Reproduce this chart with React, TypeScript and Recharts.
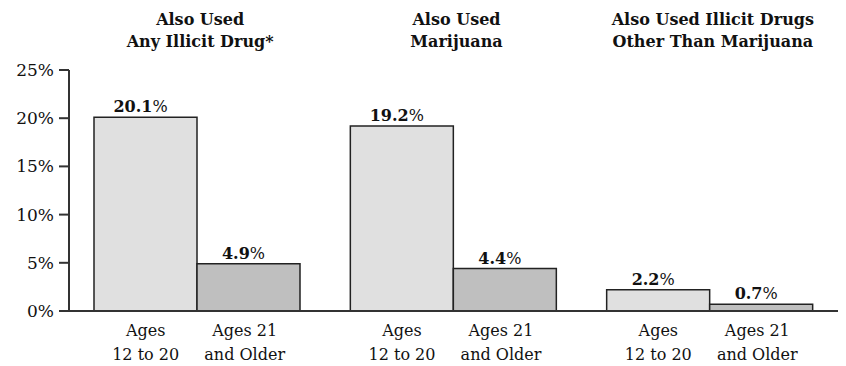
import React from 'react';
import { BarChart, Bar, XAxis, YAxis, LabelList } from 'recharts';

const groups = ['Any Illicit Drug', 'Marijuana', 'Other Than Marijuana'];
const titleLine1 = ['Also Used', 'Also Used', 'Also Used Illicit Drugs'];
const titleLine2 = ['Any Illicit Drug*', 'Marijuana', 'Other Than Marijuana'];
const ages12to20 = [20.1, 19.2, 2.2];
const ages21older = [4.9, 4.4, 0.7];
const yTicks = [0, 5, 10, 15, 20, 25];
const barLabels = [
  ['Ages', '12 to 20'],
  ['Ages 21', 'and Older'],
];

const data = groups.map((g, i) => ({
  group: g,
  young: ages12to20[i],
  older: ages21older[i],
}));

const FONT = '"DejaVu Serif", serif';
const BAR_W = 103;

const TitleTick = (props: any) => {
  const { x, payload } = props;
  const i = payload.index;
  return (
    <g>
      <text x={x + 3} y={25} textAnchor="middle" fontFamily={FONT} fontWeight="bold" fontSize={16} fill="#111">
        {titleLine1[i]}
      </text>
      <text x={x + 3} y={47} textAnchor="middle" fontFamily={FONT} fontWeight="bold" fontSize={16} fill="#111">
        {titleLine2[i]}
      </text>
    </g>
  );
};

const AgeTick = (props: any) => {
  const { x, y } = props;
  return (
    <g>
      {barLabels.map((lines, j) => {
        const cx = x + (j === 0 ? -BAR_W / 2 : BAR_W / 2 - 4);
        return (
          <g key={j}>
            <text x={cx} y={y + 17} textAnchor="middle" fontFamily={FONT} fontSize={16} fill="#111">
              {lines[0]}
            </text>
            <text x={cx} y={y + 41} textAnchor="middle" fontFamily={FONT} fontSize={16} fill="#111">
              {lines[1]}
            </text>
          </g>
        );
      })}
    </g>
  );
};

const ValueLabel = (props: any) => {
  const { x, y, width, value } = props;
  return (
    <text x={x + width / 2 - 5} y={y - 5} textAnchor="middle" fontFamily={FONT} fontSize={16} fill="#111">
      <tspan fontWeight="bold">{value.toFixed(1)}</tspan>
      <tspan>%</tspan>
    </text>
  );
};

export default function App() {
  return (
    <div style={{ position: 'absolute', left: 0, top: 0, background: '#fff' }}>
      <BarChart
        width={846}
        height={366}
        data={data}
        margin={{ top: 0, right: 8, bottom: 0, left: 0 }}
        barCategoryGap={25}
        barGap={0}
      >
        <XAxis
          xAxisId="top"
          dataKey="group"
          orientation="top"
          height={70}
          axisLine={false}
          tickLine={false}
          tick={<TitleTick />}
        />
        <XAxis
          dataKey="group"
          height={55}
          axisLine={{ stroke: '#333', strokeWidth: 2 }}
          tickLine={false}
          tick={<AgeTick />}
        />
        <YAxis
          width={69}
          domain={[0, 25]}
          ticks={yTicks}
          tickFormatter={(v) => `${v}%`}
          tickSize={10}
          tickMargin={5}
          axisLine={{ stroke: '#333', strokeWidth: 2 }}
          tickLine={{ stroke: '#333', strokeWidth: 2 }}
          tick={{ fontFamily: FONT, fontSize: 17, fill: '#111' }}
        />
        <Bar dataKey="young" fill="#e0e0e0" stroke="#222" strokeWidth={1.5} isAnimationActive={false}>
          <LabelList dataKey="young" content={<ValueLabel />} />
        </Bar>
        <Bar dataKey="older" fill="#bfbfbf" stroke="#222" strokeWidth={1.5} isAnimationActive={false}>
          <LabelList dataKey="older" content={<ValueLabel />} />
        </Bar>
      </BarChart>
    </div>
  );
}
